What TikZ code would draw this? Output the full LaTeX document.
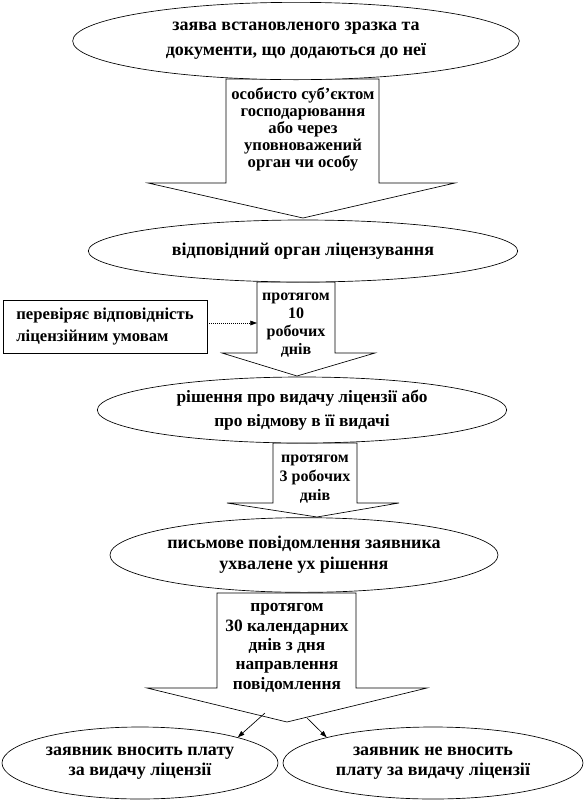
\documentclass[tikz,border=0pt]{standalone}
\usepackage{fontspec}
\setmainfont{Liberation Serif}
\usetikzlibrary{arrows.meta,shapes.geometric}

\begin{document}
\begin{tikzpicture}[x=0.75pt,y=-0.75pt,line width=0.5pt,
    oval/.style={ellipse,draw,fill=white,inner sep=0pt,align=center},
    bigarr/.style={draw,fill=white,line join=miter},
    lbl/.style={align=center,inner sep=0pt},
    note/.style={draw,fill=white,align=left,inner xsep=7pt,
                 minimum width=153pt,minimum height=40pt},
    dotarr/.style={-{Triangle[length=5pt,width=3.5pt]},densely dotted},
    tiparr/.style={-{Triangle[length=5pt,width=3.5pt]}}]
  \useasboundingbox (0,0) rectangle (587,801);
  % block arrows
  \draw[bigarr] (226,79) -- (379,79) -- (379,183) -- (455,183) -- (303,218)
                -- (148,183) -- (226,183) -- cycle;
  \draw[bigarr] (257,282) -- (335,282) -- (335,353) -- (375,353) -- (297,376)
                -- (222,353) -- (257,353) -- cycle;
  \draw[bigarr] (273,443) -- (357,443) -- (357,503) -- (399,503) -- (317,517)
                -- (227,503) -- (273,503) -- cycle;
  \draw[bigarr] (217,593) -- (356,593) -- (356,688) -- (427,688) -- (287,722)
                -- (147,688) -- (217,688) -- cycle;
  \node[lbl,font=\fontsize{12.5}{12.75}\selectfont\bfseries] (t1) at (303,129)
    {особисто суб’єктом\\господарювання\\або через\\уповноважений\\орган чи особу};
  \node[lbl,font=\fontsize{12}{13.5}\selectfont\bfseries] (t2) at (296,325)
    {протягом\\10\\робочих\\днів};
  \node[lbl,font=\fontsize{12}{14}\selectfont\bfseries] (t3) at (315,479)
    {протягом\\3 робочих\\днів};
  \node[lbl,font=\fontsize{13}{14.5}\selectfont\bfseries] (t4) at (287,648)
    {протягом\\30 календарних\\днів з дня\\направлення\\повідомлення};
  % ovals
  \node[oval,minimum width=335pt,minimum height=58pt,
        font=\fontsize{13.5}{18.5}\selectfont\bfseries] (e1) at (296,41)
    {заява встановленого зразка та\\документи, що додаються до неї};
  \node[oval,minimum width=322pt,minimum height=46.5pt,
        font=\fontsize{13.5}{18.5}\selectfont\bfseries] (e2) at (303,251)
    {відповідний орган ліцензування};
  \node[oval,minimum width=307pt,minimum height=49.5pt,
        font=\fontsize{13}{18.5}\selectfont\bfseries] (e3) at (302,410)
    {рішення про видачу ліцензії або\\про відмову в її видачі};
  \node[oval,minimum width=291pt,minimum height=56pt,
        font=\fontsize{13.5}{15.5}\selectfont\bfseries] (e4) at (304,555)
    {письмове повідомлення заявника\\ухвалене ух рішення};
  \node[oval,minimum width=207pt,minimum height=54pt,inner xsep=-4pt,
        font=\fontsize{13.5}{15}\selectfont\bfseries] (e5) at (140,763)
    {заявник вносить плату\\за видачу ліцензії};
  \node[oval,minimum width=225pt,minimum height=54pt,inner xsep=-6pt,
        font=\fontsize{13.5}{15}\selectfont\bfseries] (e6) at (433,763)
    {заявник не вносить\\плату за видачу ліцензії};
  % side box
  \node[note,font=\fontsize{12.5}{16.5}\selectfont\bfseries] (chk) at (105,326.5)
    {перевіряє відповідність\\ліцензійним умовам};
  \coordinate (s2w) at (257,323);
  \draw[dotarr] (chk.east |- s2w) -- (s2w);
  % split
  \coordinate (sl) at (265,713);
  \coordinate (sr) at (307,718);
  \draw[tiparr] (sl) -- (e5.north east);
  \draw[tiparr] (sr) -- (e6.north west);
\end{tikzpicture}
\end{document}
